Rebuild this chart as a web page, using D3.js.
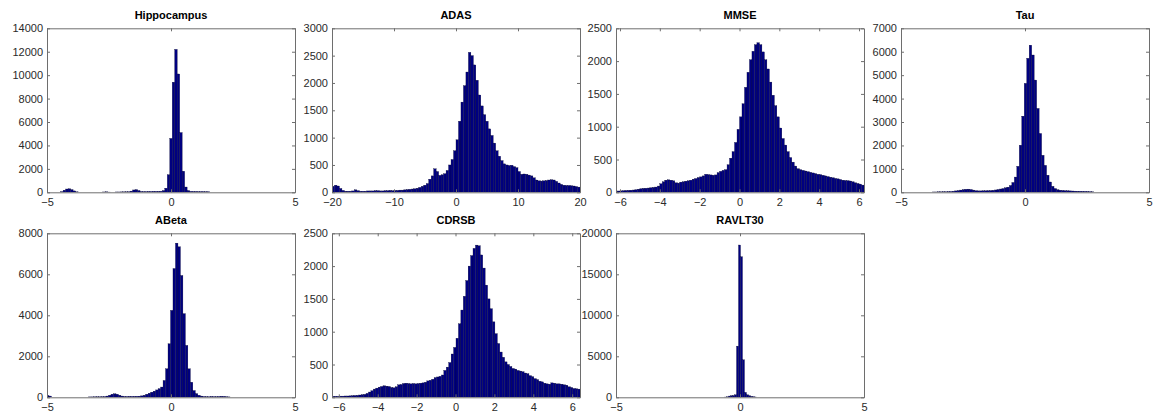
<!DOCTYPE html>
<html>
<head>
<meta charset="utf-8">
<script src="https://cdn.jsdelivr.net/npm/d3@7"></script>
<style>
  body { margin: 0; background: #fff; }
  text { font-family: "Liberation Sans", Arial, Helvetica, sans-serif; }
</style>
</head>
<body>
<svg id="chart" width="1160" height="418"></svg>
<script>
// histogram counts (bin i covers start + i*width .. start + (i+1)*width)
var titles = ["Hippocampus", "ADAS", "MMSE", "Tau", "ABeta", "CDRSB", "RAVLT30"];

var hippoCounts = [60,180,280,300,230,120,40,
  0,0,0,0,0,0,0,0,0,0,
  30,40,20,0,0,
  30,30,35,40,40,50,
  100,200,230,150,70,
  60,60,70,70,80,80,80,90,
  150,350,1500,4600,9400,12200,10100,5100,1800,450,150,
  80,70,70,60,60,60,50,50];

var adasCounts = [110,130,115,70,35,20,20,20,25,45,
  30,20,20,20,25,25,25,30,30,25,
  25,30,30,35,30,35,35,40,40,45,
  50,55,60,65,75,90,110,130,160,240,
  300,430,380,310,320,340,400,500,600,760,
  960,1300,1650,1950,2200,2560,2500,2330,2050,1780,
  1580,1420,1300,1160,1040,900,760,660,580,520,
  500,490,495,470,450,380,330,335,330,315,
  300,265,225,210,205,210,215,225,230,225,
  200,170,145,130,125,125,120,115,105,95];

var mmseCounts = [20,20,22,25,28,30,32,35,40,48,
  55,60,62,65,70,75,80,95,130,160,
  185,190,185,175,145,140,155,160,170,175,
  185,200,210,225,235,250,275,270,265,260,
  265,300,320,335,345,420,520,620,760,960,
  1150,1350,1600,1830,2020,2150,2250,2280,2250,2140,
  2020,1880,1680,1480,1320,1150,980,820,720,620,
  530,460,400,360,345,335,325,315,305,295,
  285,275,270,260,250,240,230,222,212,205,
  195,185,180,178,172,160,145,135,125,110];

var tauCounts = [15,15,20,20,25,25,30,35,45,60,
  75,95,115,130,135,120,95,70,
  60,60,65,65,70,75,
  85,100,120,140,160,190,220,290,
  420,650,1110,2010,3250,4650,5720,6280,5860,4790,
  3580,2510,1580,1150,730,440,255,160,110,
  90,80,70,65,60,55,50,45,45,40,40,35,30,20];

var abetaCounts = [90,60,
  0,0,0,0,0,0,0,0,0,0,0,0,0,0,0,
  20,20,25,25,25,30,35,60,100,150,170,150,100,60,
  40,40,45,45,45,50,55,70,
  100,150,200,250,300,360,420,500,820,1390,
  2610,4240,6280,7520,7340,5940,4080,2530,1390,735,
  330,180,100,60,40,30,30,40,35,30,
  40,50,45,30,20];

var cdrsbCounts = [15,15,15,18,18,20,20,22,25,28,
  30,35,40,45,60,80,100,125,140,155,
  165,175,170,165,150,145,160,190,195,210,
  215,210,205,210,205,210,215,220,230,250,
  260,275,300,310,320,340,410,460,530,660,
  760,900,1120,1330,1540,1780,2000,2160,2270,2320,
  2310,2170,1970,1710,1500,1350,1150,970,820,690,
  610,540,500,470,440,430,410,400,390,370,
  360,330,315,285,270,245,235,215,205,200,
  220,215,205,205,200,190,185,160,150,135,
  130,125];

var ravltCounts = [30,60,150,200,220,300,6240,18570,17140,4570,600,300,200,120,80,40];

var allCounts = [hippoCounts, adasCounts, mmseCounts, tauCounts, abetaCounts, cdrsbCounts, ravltCounts];
var binStarts = [-4.45, -20, -6.25, -3.73, -5.02, -6.35, -0.62];
var binWidths = [0.1, 0.4, 0.125, 0.1, 0.1, 0.125, 0.08];

var xDomains = [[-5, 5], [-20, 20], [-6.2, 6.25], [-5, 5], [-5, 5], [-6.35, 6.4], [-5, 5]];
var xTicks = [[-5, 0, 5], [-20, -10, 0, 10, 20], [-6, -4, -2, 0, 2, 4, 6], [-5, 0, 5],
  [-5, 0, 5], [-6, -4, -2, 0, 2, 4, 6], [-5, 0, 5]];
var yMaxes = [14000, 3000, 2500, 7000, 8000, 2500, 20000];
var yTicks = [d3.range(0, 14001, 2000), d3.range(0, 3001, 500), d3.range(0, 2501, 500),
  d3.range(0, 7001, 1000), d3.range(0, 8001, 2000), d3.range(0, 2501, 500), d3.range(0, 20001, 5000)];

var svg = d3.select("#chart");
svg.append("rect").attr("width", 1160).attr("height", 418).attr("fill", "#fff");

var colLeft = [47, 332, 616, 901];
var rowTop = [28.3, 233.3];
var pw = 248, ph = 164;

titles.forEach(function(title, k) {
  var left = colLeft[k % 4], top = rowTop[Math.floor(k / 4)];
  var x = d3.scaleLinear().domain(xDomains[k]).range([left, left + pw]);
  var y = d3.scaleLinear().domain([0, yMaxes[k]]).range([top + ph, top]);
  var g = svg.append("g");

  g.append("clipPath").attr("id", "clip" + k)
    .append("rect").attr("x", left).attr("y", top).attr("width", pw).attr("height", ph);

  var start = binStarts[k], bw = binWidths[k];
  g.append("g").attr("clip-path", "url(#clip" + k + ")")
    .selectAll("rect").data(allCounts[k]).enter().append("rect")
    .attr("x", function(d, i) { return x(start + i * bw); })
    .attr("width", function(d, i) { return x(start + (i + 1) * bw) - x(start + i * bw); })
    .attr("y", function(d) { return y(d); })
    .attr("height", function(d) { return y(0) - y(d); })
    .attr("fill", "#000080")
    .attr("stroke", "#00002a")
    .attr("stroke-width", 0.3);

  var fmt = d3.format("d");
  var bottom = d3.axisBottom(x).tickValues(xTicks[k]).tickSizeInner(-3).tickSizeOuter(0).tickPadding(6);
  var leftAx = d3.axisLeft(y).tickValues(yTicks[k]).tickFormat(fmt).tickSizeInner(-3).tickSizeOuter(0).tickPadding(4);
  var topAx = d3.axisTop(x).tickValues(xTicks[k]).tickFormat("").tickSizeInner(-3).tickSizeOuter(0);
  var rightAx = d3.axisRight(y).tickValues(yTicks[k]).tickFormat("").tickSizeInner(-3).tickSizeOuter(0);

  var axes = [
    g.append("g").attr("transform", "translate(0," + (top + ph) + ")").call(bottom),
    g.append("g").attr("transform", "translate(" + left + ",0)").call(leftAx),
    g.append("g").attr("transform", "translate(0," + top + ")").call(topAx),
    g.append("g").attr("transform", "translate(" + (left + pw) + ",0)").call(rightAx)
  ];
  axes.forEach(function(a) {
    a.selectAll("path, line").attr("stroke", "#6e6e6e");
    a.selectAll("text").attr("font-size", 11).attr("fill", "#2a2a2a")
      .attr("font-family", "'Liberation Sans', Arial, Helvetica, sans-serif");
  });

  g.append("text")
    .attr("x", left + pw / 2).attr("y", top - 9.3)
    .attr("text-anchor", "middle")
    .attr("font-size", 11).attr("font-weight", "bold")
    .text(title);
});
</script>
</body>
</html>
